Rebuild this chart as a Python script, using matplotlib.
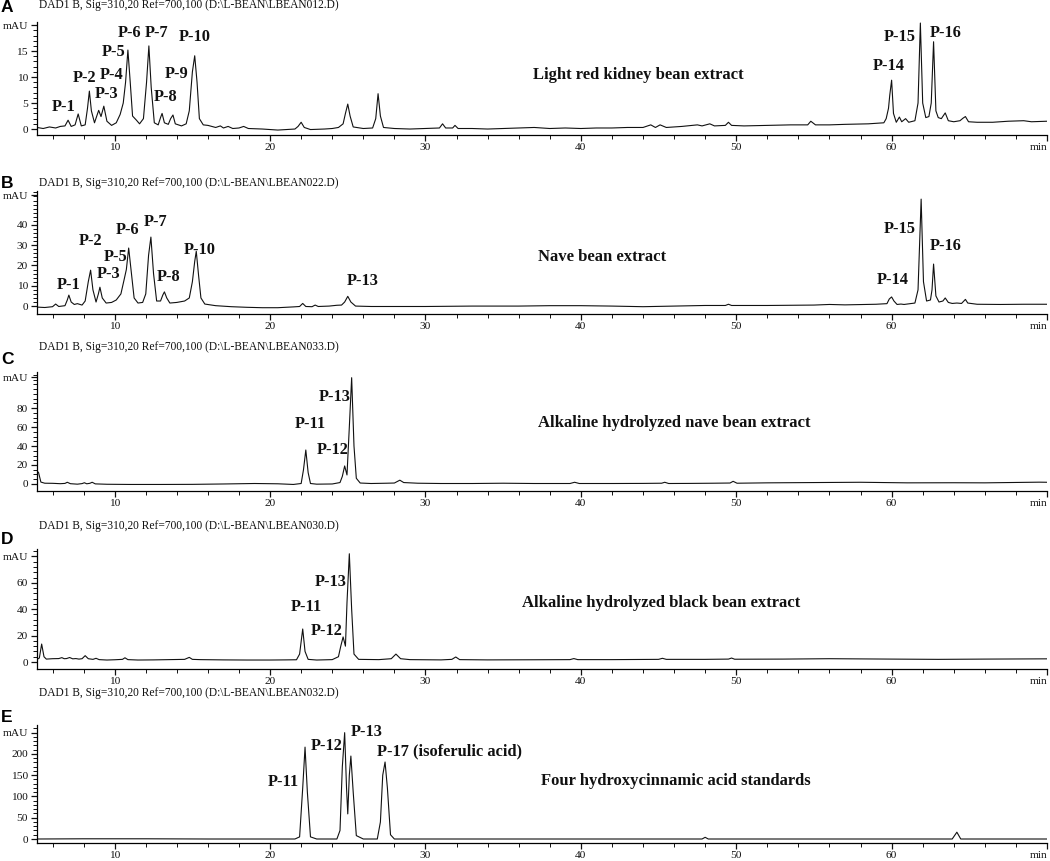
import matplotlib
matplotlib.use("Agg")
import matplotlib.pyplot as plt
from matplotlib.ticker import FixedLocator, FixedFormatter

plt.rcParams['font.family'] = ['Liberation Serif', 'DejaVu Serif']

# ---------------- data (retention time in min, absorbance in mAU) ----------------
trace_a = [
    (5.0, 0.3), (5.4, 0.1), (5.8, 0.4), (6.2, 0.2), (6.5, 0.5), (6.8, 0.6), (7.0, 1.7), (7.2, 0.5),
    (7.45, 0.8), (7.65, 2.9), (7.85, 0.6), (8.1, 0.8), (8.25, 4.0), (8.37, 7.3), (8.5, 3.5), (8.7, 1.2),
    (8.85, 2.5), (8.97, 3.6), (9.12, 2.4), (9.3, 4.4), (9.5, 1.5), (9.8, 0.7), (10.1, 1.2), (10.35, 2.8),
    (10.55, 5.0), (10.7, 9.0), (10.85, 15.2), (11.0, 9.0), (11.15, 2.5), (11.4, 1.7), (11.6, 1.0),
    (11.85, 2.0), (12.05, 9.0), (12.2, 16.0), (12.35, 8.0), (12.55, 1.2), (12.8, 0.8), (12.95, 2.2),
    (13.05, 3.0), (13.2, 1.2), (13.45, 0.9), (13.6, 2.0), (13.75, 2.7), (13.9, 1.0), (14.3, 0.6),
    (14.6, 1.0), (14.8, 3.5), (15.0, 11.0), (15.15, 14.1), (15.3, 9.0), (15.45, 2.0), (15.7, 0.8),
    (16.0, 0.7), (16.5, 0.3), (16.8, 0.6), (17.0, 0.2), (17.3, 0.5), (17.6, 0.1), (18.0, 0.2),
    (18.3, 0.5), (18.6, 0.1), (19.5, 0.0), (20.5, -0.2), (21.0, -0.1), (21.6, 0.0), (21.8, 0.5),
    (22.0, 1.3), (22.2, 0.3), (22.6, -0.1), (23.5, 0.0), (24.0, 0.1), (24.4, 0.3), (24.7, 1.0),
    (24.85, 3.0), (25.0, 4.8), (25.15, 2.5), (25.35, 0.4), (26.0, 0.1), (26.6, 0.2), (26.8, 2.0),
    (26.95, 6.8), (27.1, 2.5), (27.3, 0.3), (28.0, 0.1), (29.0, 0.0), (30.0, 0.1), (30.9, 0.2),
    (31.1, 1.0), (31.3, 0.2), (31.75, 0.2), (31.9, 0.7), (32.1, 0.1), (33.0, 0.1), (34.0, 0.0),
    (35.0, 0.1), (36.0, 0.2), (37.0, 0.3), (38.0, 0.1), (39.0, 0.2), (40.0, 0.1), (41.0, 0.2),
    (42.0, 0.2), (43.0, 0.3), (44.0, 0.3), (44.5, 0.8), (44.8, 0.3), (45.1, 0.8), (45.5, 0.3),
    (46.5, 0.5), (47.5, 0.8), (47.8, 0.6), (48.3, 1.0), (48.6, 0.6), (49.3, 0.7), (49.5, 1.3),
    (49.7, 0.7), (50.5, 0.6), (52.0, 0.7), (53.5, 0.8), (54.6, 0.8), (54.8, 1.5), (55.1, 0.8),
    (56.0, 0.8), (57.0, 0.9), (58.5, 1.0), (59.5, 1.2), (59.65, 2.0), (59.8, 4.0), (59.88, 6.5),
    (60.0, 9.4), (60.12, 3.0), (60.3, 1.3), (60.5, 2.3), (60.65, 1.4), (60.9, 2.0), (61.1, 1.3),
    (61.5, 1.6), (61.7, 5.0), (61.85, 20.4), (62.0, 5.0), (62.2, 2.2), (62.4, 2.4), (62.55, 5.0),
    (62.7, 16.8), (62.85, 3.5), (63.0, 2.2), (63.2, 2.0), (63.45, 3.1), (63.65, 1.6), (64.0, 1.4),
    (64.4, 1.6), (64.6, 2.1), (64.75, 2.4), (64.95, 1.4), (65.5, 1.3), (66.5, 1.3), (67.5, 1.5),
    (68.5, 1.6), (69.0, 1.4), (70.0, 1.5),
]

trace_b = [
    (5.0, -0.5), (5.5, -0.7), (6.0, -0.3), (6.2, 1.0), (6.4, -0.2), (6.8, 0.2), (6.95, 3.0),
    (7.05, 5.4), (7.2, 2.0), (7.4, 0.8), (7.6, 1.2), (7.9, 0.5), (8.1, 2.5), (8.3, 12.0),
    (8.45, 17.7), (8.6, 8.0), (8.8, 2.0), (8.95, 6.0), (9.05, 9.3), (9.2, 4.0), (9.45, 1.5),
    (9.8, 1.8), (10.1, 3.0), (10.4, 6.0), (10.6, 12.8), (10.75, 18.0), (10.9, 28.6), (11.05, 18.0),
    (11.25, 4.0), (11.5, 1.5), (11.8, 1.8), (12.0, 6.0), (12.18, 25.0), (12.33, 34.0), (12.5, 16.0),
    (12.7, 2.5), (12.95, 2.5), (13.1, 5.5), (13.2, 7.0), (13.35, 4.0), (13.55, 1.5), (14.0, 1.8),
    (14.5, 2.5), (14.8, 4.0), (15.0, 12.0), (15.15, 22.0), (15.25, 27.0), (15.4, 15.0),
    (15.55, 4.0), (15.8, 1.0), (16.5, 0.2), (17.5, -0.3), (18.5, -0.6), (19.5, -0.8), (20.5, -0.8),
    (21.5, -0.4), (21.9, -0.2), (22.1, 1.3), (22.3, -0.2), (22.7, -0.3), (22.9, 0.5), (23.1, -0.2),
    (23.8, 0.0), (24.3, 0.4), (24.6, 0.5), (24.8, 2.0), (25.0, 4.8), (25.2, 2.0), (25.5, 0.0),
    (26.5, -0.2), (28.0, -0.2), (30.0, -0.2), (33.0, 0.0), (36.0, 0.0), (38.0, 0.2), (40.0, 0.2),
    (42.0, 0.0), (44.0, -0.3), (46.0, 0.0), (48.0, 0.3), (49.3, 0.3), (49.5, 0.9), (49.7, 0.3),
    (52.0, 0.3), (55.0, 0.5), (56.0, 0.8), (57.0, 0.6), (59.0, 0.9), (59.7, 1.2), (59.85, 3.5),
    (60.0, 4.5), (60.15, 2.5), (60.35, 0.8), (60.6, 1.0), (60.8, 0.8), (61.0, 1.0), (61.5, 1.5),
    (61.7, 8.0), (61.9, 52.7), (62.05, 12.0), (62.25, 2.5), (62.5, 3.0), (62.6, 8.0), (62.7, 20.7),
    (62.85, 5.0), (63.05, 2.0), (63.3, 2.5), (63.45, 4.0), (63.65, 1.8), (63.9, 1.3), (64.2, 1.5),
    (64.5, 1.3), (64.65, 2.5), (64.75, 3.3), (64.9, 1.5), (65.5, 0.9), (67.0, 0.8), (68.5, 0.9),
    (70.0, 0.9),
]

trace_c = [
    (5.0, 13.7), (5.1, 12.0), (5.25, 2.0), (5.5, 0.8), (6.0, 0.7), (6.5, 0.3), (6.8, 0.6),
    (6.95, 1.8), (7.15, 0.3), (7.6, -0.2), (7.9, 0.4), (8.05, 1.3), (8.2, 0.2), (8.4, 0.7),
    (8.55, 1.8), (8.75, 0.1), (9.5, -0.3), (11.0, -0.5), (13.0, -0.5), (15.0, -0.4), (17.0, 0.0),
    (19.0, 0.5), (20.5, 0.2), (21.5, -0.5), (22.0, 0.5), (22.15, 15.0), (22.3, 35.8), (22.45, 12.0),
    (22.6, 0.5), (23.0, -0.2), (24.0, 0.0), (24.5, 1.5), (24.65, 8.0), (24.8, 19.0), (24.95, 9.5),
    (25.1, 60.0), (25.25, 112.0), (25.4, 40.0), (25.55, 6.0), (25.8, 1.0), (26.5, 0.5), (27.5, 0.8),
    (28.0, 1.0), (28.35, 4.0), (28.6, 1.5), (29.5, 0.8), (31.0, 0.5), (33.0, 0.5), (35.0, 0.8),
    (37.0, 0.5), (39.3, 0.5), (39.6, 1.8), (39.9, 0.5), (42.0, 0.5), (44.0, 0.6), (45.2, 0.8),
    (45.4, 1.8), (45.65, 0.5), (47.0, 0.6), (48.5, 0.8), (49.6, 1.0), (49.8, 2.8), (50.05, 0.8),
    (52.0, 1.2), (55.0, 1.5), (58.0, 1.8), (61.0, 1.2), (64.0, 1.3), (66.0, 1.2), (68.0, 1.6),
    (69.5, 1.9), (70.0, 1.8),
]

trace_d = [
    (5.0, 2.0), (5.15, 3.0), (5.3, 13.6), (5.45, 4.0), (5.6, 2.2), (6.0, 2.5), (6.4, 2.6),
    (6.6, 3.3), (6.75, 2.5), (6.9, 2.6), (7.1, 3.4), (7.3, 2.4), (7.5, 2.6), (7.7, 2.2), (7.9, 2.5),
    (8.1, 4.8), (8.3, 2.5), (8.6, 2.0), (8.8, 2.8), (9.0, 1.8), (9.5, 1.5), (10.0, 1.7), (10.5, 2.0),
    (10.66, 3.2), (10.85, 1.8), (11.5, 1.5), (12.5, 1.6), (13.5, 1.8), (14.5, 2.0), (14.8, 3.5),
    (15.0, 2.0), (15.5, 1.8), (17.0, 1.6), (18.5, 1.5), (20.0, 1.5), (21.0, 1.6), (21.7, 1.7),
    (21.9, 6.0), (22.1, 25.0), (22.25, 8.0), (22.45, 2.0), (23.0, 1.5), (24.0, 1.8), (24.4, 4.0),
    (24.55, 12.0), (24.7, 19.0), (24.85, 12.0), (24.95, 45.0), (25.1, 82.0), (25.25, 40.0),
    (25.4, 6.0), (25.7, 2.0), (27.0, 1.8), (27.8, 2.5), (28.1, 6.0), (28.4, 2.5), (29.0, 1.8),
    (31.0, 1.6), (31.7, 2.0), (31.95, 3.8), (32.2, 1.8), (34.0, 1.6), (37.0, 1.7), (39.3, 1.8),
    (39.55, 2.6), (39.8, 1.8), (42.0, 1.8), (45.0, 2.0), (45.25, 2.8), (45.5, 2.0), (48.0, 2.0),
    (49.5, 2.2), (49.7, 3.0), (49.9, 2.1), (53.0, 2.2), (56.0, 2.5), (60.0, 2.2), (63.0, 2.0),
    (66.0, 2.2), (70.0, 2.4),
]

trace_e = [
    (5.0, 0.0), (8.0, 0.5), (12.0, 0.5), (16.0, 0.0), (21.6, 0.0), (21.9, 5.0), (22.1, 120.0),
    (22.25, 216.0), (22.4, 110.0), (22.6, 5.0), (23.0, 0.0), (24.3, 0.0), (24.5, 20.0),
    (24.65, 170.0), (24.8, 250.0), (24.92, 120.0), (25.0, 59.0), (25.1, 150.0), (25.2, 195.0),
    (25.35, 110.0), (25.55, 8.0), (26.0, 0.0), (26.9, 0.0), (27.1, 40.0), (27.25, 150.0),
    (27.4, 181.0), (27.55, 120.0), (27.75, 10.0), (28.0, 0.0), (40.0, 0.0), (47.8, 0.0),
    (48.0, 4.0), (48.2, 0.0), (63.9, 0.0), (64.2, 16.0), (64.45, 0.0), (70.0, 0.0),
]

header_files = ["LBEAN012.D", "LBEAN022.D", "LBEAN033.D", "LBEAN030.D", "LBEAN032.D"]
panel_letters = ["A", "B", "C", "D", "E"]
sample_names = [
    "Light red kidney bean extract",
    "Nave bean extract",
    "Alkaline hydrolyzed nave bean extract",
    "Alkaline hydrolyzed black bean extract",
    "Four hydroxycinnamic acid standards",
]
peak_labels_a = [("P-1", 6.74, 4.2), ("P-2", 8.09, 9.8), ("P-3", 9.5, 6.7), ("P-4", 9.82, 10.4),
                 ("P-5", 9.95, 14.8), ("P-6", 10.98, 18.5), ("P-7", 12.72, 18.5), ("P-8", 13.3, 6.2),
                 ("P-9", 14.0, 10.6), ("P-10", 15.16, 17.7), ("P-14", 59.8, 12.1),
                 ("P-15", 60.5, 17.7), ("P-16", 63.46, 18.5)]
peak_labels_b = [("P-1", 7.06, 10.3), ("P-2", 8.47, 32.0), ("P-3", 9.63, 15.8), ("P-5", 10.08, 24.1),
                 ("P-6", 10.85, 37.4), ("P-7", 12.65, 41.4), ("P-8", 13.49, 14.3),
                 ("P-10", 15.48, 27.6), ("P-13", 25.96, 12.3), ("P-14", 60.1, 12.8),
                 ("P-15", 60.5, 37.9), ("P-16", 63.5, 29.6)]
peak_labels_c = [("P-11", 22.56, 63.0), ("P-12", 24.04, 35.8), ("P-13", 24.16, 91.6)]
peak_labels_d = [("P-11", 22.3, 41.7), ("P-12", 23.65, 23.5), ("P-13", 23.9, 60.6)]
peak_labels_e = [("P-11", 20.88, 134.0), ("P-12", 23.65, 219.0), ("P-13", 26.2, 252.0),
                 ("P-17 (isoferulic acid)", 31.56, 205.0)]

x_major = [10, 20, 30, 40, 50, 60, 70]
x_major_labels = ["10", "20", "30", "40", "50", "60", "min"]

# ---------------- layout (pixel geometry of the reference) ----------------
W, H = 1050, 861
fig = plt.figure(figsize=(W / 100, H / 100), dpi=100)

AX_L, AX_R = 37, 1047
panels = [
    dict(data=trace_a, top=22, bot=135, ylim=(-1.15, 20.6), yt=[0, 5, 10, 15], mau=20, minor=1,
         labels=peak_labels_a, name_xy=(50.5, 10.4), head_y=5, letter_y=8),
    dict(data=trace_b, top=191, bot=314, ylim=(-3.9, 56.7), yt=[0, 10, 20, 30, 40], mau=54.7, minor=2,
         labels=peak_labels_b, name_xy=(45.5, 24.1), head_y=183, letter_y=184),
    dict(data=trace_c, top=372, bot=491, ylim=(-7.4, 118), yt=[0, 20, 40, 60, 80], mau=112.6, minor=5,
         labels=peak_labels_c, name_xy=(54.8, 64.0), head_y=347, letter_y=360),
    dict(data=trace_d, top=549, bot=669, ylim=(-5.3, 85.6), yt=[0, 20, 40, 60], mau=80, minor=4,
         labels=peak_labels_d, name_xy=(54.1, 44.7), head_y=526, letter_y=540),
    dict(data=trace_e, top=725, bot=843, ylim=(-9.4, 268), yt=[0, 50, 100, 150, 200], mau=250, minor=10,
         labels=peak_labels_e, name_xy=(54.8, 136.0), head_y=693, letter_y=717),
]

for i, p in enumerate(panels):
    ax = fig.add_axes([AX_L / W, 1 - p["bot"] / H, (AX_R - AX_L) / W, (p["bot"] - p["top"]) / H])
    t = [pt[0] for pt in p["data"]]
    v = [pt[1] for pt in p["data"]]
    ax.plot(t, v, color="#111111", lw=0.8, solid_joinstyle="round")
    ax.set_xlim(5, 70)
    ax.set_ylim(*p["ylim"])
    for s in ("top", "right"):
        ax.spines[s].set_visible(False)
    for s in ("left", "bottom"):
        ax.spines[s].set_linewidth(0.9)
    ax.xaxis.set_major_locator(FixedLocator(x_major))
    ax.xaxis.set_major_formatter(FixedFormatter(x_major_labels))
    ax.xaxis.set_minor_locator(FixedLocator([m for m in range(6, 70, 2) if m % 10 != 0]))
    ax.yaxis.set_major_locator(FixedLocator(p["yt"] + [p["mau"]]))
    ax.yaxis.set_major_formatter(FixedFormatter([str(y) for y in p["yt"]] + ["mAU"]))
    mstep = p["minor"]
    mins = []
    y = 0
    while y < p["ylim"][1]:
        if y not in p["yt"]:
            mins.append(y)
        y += mstep
    ax.yaxis.set_minor_locator(FixedLocator(mins))
    ax.tick_params(axis="both", which="major", length=4.5, width=0.9, labelsize=8.2,
                   colors="#111111")
    ax.tick_params(axis="x", which="major", pad=1.0)
    ax.tick_params(axis="y", which="major", pad=2.0)
    ax.tick_params(axis="both", which="minor", length=2.8, width=0.7, colors="#111111")
    ax.patch.set_alpha(0)
    fig.canvas.draw()
    xl = ax.get_xticklabels()
    xl[-1].set_horizontalalignment("right")

    for lab, lx, ly in p["labels"]:
        ax.text(lx, ly, lab, ha="center", va="center", fontsize=11.8, fontweight="bold",
                color="#111111")
    ax.text(p["name_xy"][0], p["name_xy"][1], sample_names[i], ha="right", va="center",
            fontsize=12, fontweight="bold", color="#111111")

    fig.text(39 / W, 1 - p["head_y"] / H,
             "DAD1 B, Sig=310,20 Ref=700,100 (D:\\L-BEAN\\" + header_files[i] + ")",
             ha="left", va="center", fontsize=8.3, color="#111111")
    fig.text(1 / W, 1 - p["letter_y"] / H, panel_letters[i], ha="left", va="center",
             fontsize=12.5, fontweight="bold", family=["Liberation Sans", "DejaVu Sans"],
             color="black")

fig.savefig("out.png", dpi=100, facecolor="white")
